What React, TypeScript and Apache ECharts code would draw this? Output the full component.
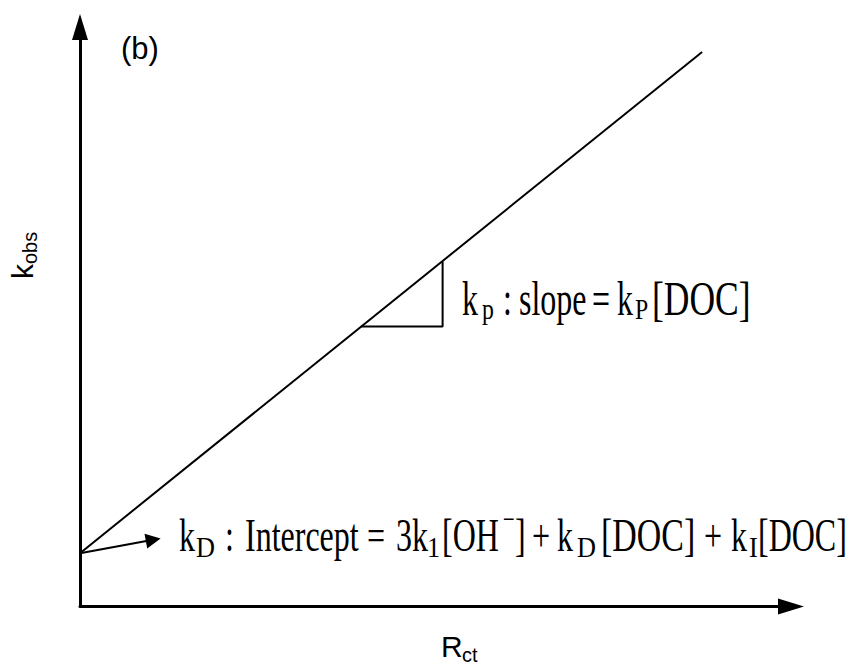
import React, { useEffect, useRef } from "react";
import * as echarts from "echarts";

// Linear model k_obs = intercept + slope * R_ct (arbitrary units)
const lineX = [0, 8.75];
const lineY = [0.92, 9.57];
// Slope triangle drawn under the line (bottom-left, bottom-right, top-right)
const triX = [3.95, 5.1, 5.1];
const triY = [4.83, 4.83, 5.95];
// Pointer from the intercept towards its label
const pointerFrom = [0, 0.92];
const pointerTo = [1.03, 1.15];

const axisMin = 0;
const axisMax = 10;

const SERIF = '"Liberation Serif", "Times New Roman", serif';
const SANS = '"Liberation Sans", Arial, sans-serif';

// Equation pieces: [text, kind, left x in px, horizontal stretch]
// kind m = main, sub = subscript, sup = superscript
type Piece = [string, "m" | "sub" | "sup", number, number?];
const slopePieces: Piece[] = [
  ["k", "m", 462],
  ["p", "sub", 482],
  [":", "m", 503],
  ["slope", "m", 519],
  ["=", "m", 592],
  ["k", "m", 617],
  ["P", "sub", 635],
  ["[DOC]", "m", 652, 1.11],
];
const interceptPieces: Piece[] = [
  ["k", "m", 179],
  ["D", "sub", 196],
  [":", "m", 225],
  ["Intercept", "m", 245],
  ["=", "m", 367],
  ["3k", "m", 396],
  ["1", "sub", 427],
  ["[OH", "m", 442],
  ["−", "sup", 503],
  ["]", "m", 515],
  ["+", "m", 532],
  ["k", "m", 557],
  ["D", "sub", 577],
  ["[DOC]", "m", 601, 1.06],
  ["+", "m", 704],
  ["k", "m", 731],
  ["I", "sub", 749],
  ["[DOC]", "m", 758],
];

// Central-baseline offsets of Liberation Serif / Sans, as a fraction of the font size
const SERIF_MID = 0.3375;
const SANS_MID = 0.3465;

interface EqStyle {
  baseline: number;
  size: number;
  subSize: number;
  subDrop: number;
  subScaleX: number;
  supRise: number;
  scaleY: number;
}

function equation(pieces: Piece[], st: EqStyle) {
  return pieces.map(([text, kind, x, sx]) => {
    const size = kind === "m" ? st.size : st.subSize;
    const base =
      kind === "sub" ? st.baseline + st.subDrop : kind === "sup" ? st.baseline - st.supRise : st.baseline;
    return {
      type: "text",
      x,
      y: base,
      scaleY: st.scaleY,
      scaleX: sx ?? (kind === "sub" ? st.subScaleX : 1),
      silent: true,
      style: {
        text,
        x: 0,
        y: -SERIF_MID * size,
        fontFamily: SERIF,
        fontSize: size,
        fill: "#000",
        align: "left",
        verticalAlign: "middle",
      },
    };
  });
}

// Sans label placed by its baseline
function sansText(text: string, x: number, baseline: number, size: number) {
  return {
    type: "text",
    x,
    y: baseline,
    silent: true,
    style: {
      text,
      x: 0,
      y: -SANS_MID * size,
      fontFamily: SANS,
      fontSize: size,
      fill: "#000",
      align: "left",
      verticalAlign: "middle",
    },
  };
}

export default function App() {
  const ref = useRef<HTMLDivElement>(null);

  useEffect(() => {
    if (!ref.current) return;
    const chart = echarts.init(ref.current, null, { renderer: "svg" });

    const axisCommon = {
      type: "value",
      min: axisMin,
      max: axisMax,
      axisLine: {
        show: true,
        symbol: ["none", "triangle"],
        symbolSize: [16, 26],
        lineStyle: { color: "#000", width: 3 },
      },
      axisTick: { show: false },
      axisLabel: { show: false },
      splitLine: { show: false },
    };

    chart.setOption({
      animation: false,
      backgroundColor: "#fff",
      grid: { left: 80, right: 62, top: 27, bottom: 59.5 },
      xAxis: { ...axisCommon },
      yAxis: { ...axisCommon },
      series: [
        {
          type: "line",
          data: lineX.map((x, i) => [x, lineY[i]]),
          symbol: "none",
          silent: true,
          lineStyle: { color: "#000", width: 2 },
          markLine: {
            silent: true,
            symbol: ["none", "triangle"],
            symbolSize: 15,
            lineStyle: { color: "#000", width: 2, type: "solid" },
            label: { show: false },
            emphasis: { disabled: true },
            data: [[{ coord: pointerFrom }, { coord: pointerTo }]],
          },
        },
        {
          type: "line",
          data: triX.map((x, i) => [x, triY[i]]),
          symbol: "none",
          silent: true,
          lineStyle: { color: "#000", width: 2 },
        },
      ],
      graphic: [
        sansText("(b)", 121, 59, 31),
        {
          type: "group",
          x: 33,
          y: 279,
          rotation: Math.PI / 2,
          children: [sansText("k", 0, 0, 30), sansText("obs", 15, 4, 20)],
        },
        sansText("R", 441, 657, 30),
        sansText("ct", 462, 662, 20),
        ...equation(slopePieces, {
          baseline: 315,
          size: 32,
          subSize: 19,
          subDrop: 4,
          subScaleX: 1.25,
          supRise: 0,
          scaleY: 1.5,
        }),
        ...equation(interceptPieces, {
          baseline: 551,
          size: 32,
          subSize: 21,
          subDrop: 6,
          subScaleX: 1.25,
          supRise: 22,
          scaleY: 1.42,
        }),
      ],
    });

    return () => chart.dispose();
  }, []);

  return (
    <div
      ref={ref}
      style={{ position: "absolute", left: 0, top: 0, width: 853, height: 666, background: "#fff" }}
    />
  );
}
